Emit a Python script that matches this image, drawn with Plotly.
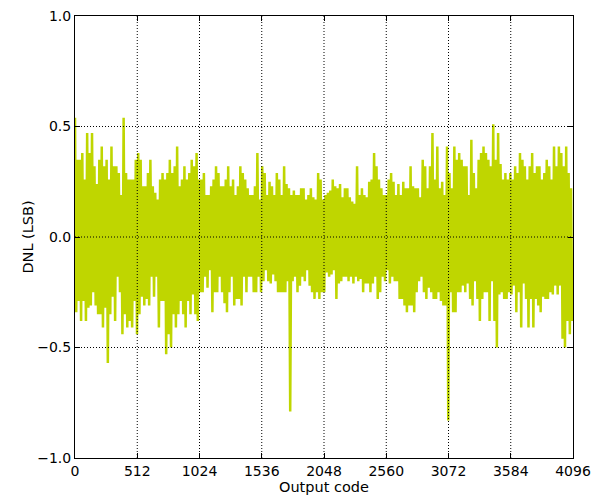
import plotly.graph_objects as go

# DNL envelope: peak (upper) value at code 20*k,
# trough (lower) value at code 20*k + 10
code_step = 20
upper = [
    0.54, 0.35, 0.35, 0.38, 0.26, 0.47, 0.38, 0.47, 0.32, 0.24,
    0.35, 0.41, 0.32, 0.35, 0.26, 0.41, 0.32, 0.32, 0.29, 0.19,
    0.54, 0.29, 0.26, 0.26, 0.26, 0.35, 0.38, 0.35, 0.23, 0.23,
    0.29, 0.35, 0.23, 0.20, 0.17, 0.26, 0.29, 0.26, 0.29, 0.35,
    0.29, 0.32, 0.41, 0.23, 0.26, 0.32, 0.26, 0.29, 0.35, 0.32,
    0.38, 0.26,
    0.26, 0.29, 0.19, 0.19, 0.23, 0.26, 0.32, 0.29, 0.23, 0.23,
    0.26, 0.32, 0.23, 0.26, 0.19, 0.23, 0.32, 0.29, 0.26, 0.22,
    0.19, 0.19, 0.23, 0.38, 0.17, 0.32, 0.29, 0.19, 0.25, 0.23,
    0.19, 0.29, 0.26, 0.19, 0.32, 0.24, 0.22, 0.19, 0.21, 0.19,
    0.19, 0.22, 0.22, 0.17, 0.19, 0.22, 0.18, 0.17, 0.29, 0.26,
    0.17,
    0.19, 0.20, 0.21, 0.26, 0.23, 0.22, 0.24, 0.18, 0.22, 0.22,
    0.18, 0.16, 0.15, 0.32, 0.19, 0.22, 0.19, 0.18, 0.25, 0.26,
    0.38, 0.32, 0.26, 0.22, 0.19, 0.19, 0.26, 0.29, 0.25, 0.19,
    0.24, 0.19, 0.25, 0.22, 0.22, 0.32, 0.23, 0.22, 0.22, 0.18,
    0.35, 0.32, 0.22, 0.32, 0.47, 0.26, 0.41, 0.22, 0.25, 0.19,
    0.41,
    0.29, 0.22, 0.41, 0.35, 0.38, 0.35, 0.32, 0.32, 0.19, 0.44,
    0.29, 0.22, 0.35, 0.38, 0.41, 0.38, 0.35, 0.32, 0.51, 0.35,
    0.47, 0.33, 0.26, 0.29, 0.26, 0.29, 0.26, 0.32, 0.29, 0.38,
    0.35, 0.32, 0.26, 0.32, 0.38, 0.29, 0.32, 0.32, 0.26, 0.29,
    0.35, 0.32, 0.26, 0.41, 0.32, 0.41, 0.38, 0.32, 0.41, 0.29,
    0.22,
]
lower = [
    -0.34, -0.29, -0.38, -0.29, -0.38, -0.32, -0.31, -0.25, -0.31, -0.35,
    -0.35, -0.41, -0.32, -0.57, -0.35, -0.27, -0.38, -0.18, -0.25, -0.44,
    -0.35, -0.41, -0.38, -0.41, -0.29, -0.44, -0.35, -0.27, -0.31, -0.28,
    -0.31, -0.18, -0.27, -0.18, -0.41, -0.29, -0.29, -0.53, -0.44, -0.50,
    -0.35, -0.41, -0.35, -0.29, -0.35, -0.41, -0.29, -0.35, -0.26, -0.35,
    -0.38, -0.25,
    -0.25, -0.18, -0.23, -0.15, -0.34, -0.25, -0.25, -0.18, -0.25, -0.30,
    -0.34, -0.25, -0.18, -0.31, -0.28, -0.28, -0.31, -0.18, -0.25, -0.18,
    -0.18, -0.25, -0.25, -0.18, -0.25, -0.20, -0.15, -0.20, -0.21, -0.17,
    -0.20, -0.25, -0.25, -0.25, -0.25, -0.20, -0.79, -0.20, -0.18, -0.25,
    -0.22, -0.18, -0.20, -0.15, -0.22, -0.25, -0.28, -0.25, -0.28, -0.25,
    -0.25,
    -0.16, -0.18, -0.17, -0.15, -0.28, -0.21, -0.20, -0.18, -0.18, -0.20,
    -0.18, -0.21, -0.18, -0.20, -0.19, -0.25, -0.21, -0.21, -0.25, -0.21,
    -0.18, -0.28, -0.25, -0.18, -0.20, -0.15, -0.21, -0.18, -0.20, -0.20,
    -0.28, -0.28, -0.31, -0.34, -0.31, -0.31, -0.34, -0.25, -0.20, -0.18,
    -0.25, -0.28, -0.23, -0.25, -0.28, -0.28, -0.25, -0.29, -0.31, -0.31,
    -0.83,
    -0.25, -0.34, -0.34, -0.25, -0.25, -0.22, -0.25, -0.21, -0.28, -0.31,
    -0.20, -0.28, -0.38, -0.28, -0.25, -0.25, -0.38, -0.20, -0.38, -0.50,
    -0.26, -0.25, -0.28, -0.28, -0.25, -0.26, -0.22, -0.34, -0.25, -0.41,
    -0.21, -0.28, -0.41, -0.28, -0.41, -0.28, -0.31, -0.34, -0.27, -0.28,
    -0.28, -0.25, -0.26, -0.22, -0.26, -0.22, -0.46, -0.50, -0.38, -0.44,
    -0.38,
]

x_ticks = [0, 512, 1024, 1536, 2048, 2560, 3072, 3584, 4096]
y_ticks = [-1.0, -0.5, 0.0, 0.5, 1.0]
y_tick_labels = ["\u22121.0", "\u22120.5", "0.0", "0.5", "1.0"]

codes, dnl = [], []
for k, (hi, lo) in enumerate(zip(upper, lower)):
    codes += [code_step * k, code_step * k + code_step // 2]
    dnl += [hi, lo]

LINE_COLOR = "#bfd600"
FONT = "DejaVu Sans"

fig = go.Figure()
fig.add_trace(go.Scatter(
    x=codes, y=dnl, mode="lines",
    line=dict(color=LINE_COLOR, width=2.5),
    hoverinfo="skip", showlegend=False,
))

# dotted grid drawn above the trace (as in the reference)
shapes = []
for xv in x_ticks[1:-1]:
    shapes.append(dict(type="line", xref="x", yref="y", x0=xv, x1=xv,
                       y0=y_ticks[0], y1=y_ticks[-1], layer="above",
                       line=dict(color="black", width=1, dash="1px,2px")))
for yv in y_ticks[1:-1]:
    shapes.append(dict(type="line", xref="x", yref="y", x0=x_ticks[0], x1=x_ticks[-1],
                       y0=yv, y1=yv, layer="above",
                       line=dict(color="black", width=1, dash="1px,2px")))

axis_common = dict(
    showgrid=False, zeroline=False, showline=True, linecolor="black",
    linewidth=1, mirror="ticks", ticks="inside", ticklen=5, tickcolor="black",
    tickfont=dict(family=FONT, size=14, color="black"), layer="above traces",
    automargin=False, ticklabeloverflow="allow",
)

# the page body adds an 8px offset, so the figure is 8px smaller each way
fig.update_layout(
    width=595, height=487,
    paper_bgcolor="white", plot_bgcolor="white",
    margin=dict(l=67, r=30, t=8, b=37),
    font=dict(family=FONT, size=14, color="black"),
    shapes=shapes,
    xaxis=dict(range=[x_ticks[0], x_ticks[-1]], tickvals=x_ticks,
               ticktext=[str(v) for v in x_ticks],
               title=dict(text="Output code", font=dict(family=FONT, size=14.5), standoff=0),
               **axis_common),
    yaxis=dict(range=[y_ticks[0], y_ticks[-1]], tickvals=y_ticks,
               ticktext=y_tick_labels,
               title=dict(text="DNL (LSB)", font=dict(family=FONT, size=14.5), standoff=0),
               **axis_common),
)

fig.write_html("out.html")
